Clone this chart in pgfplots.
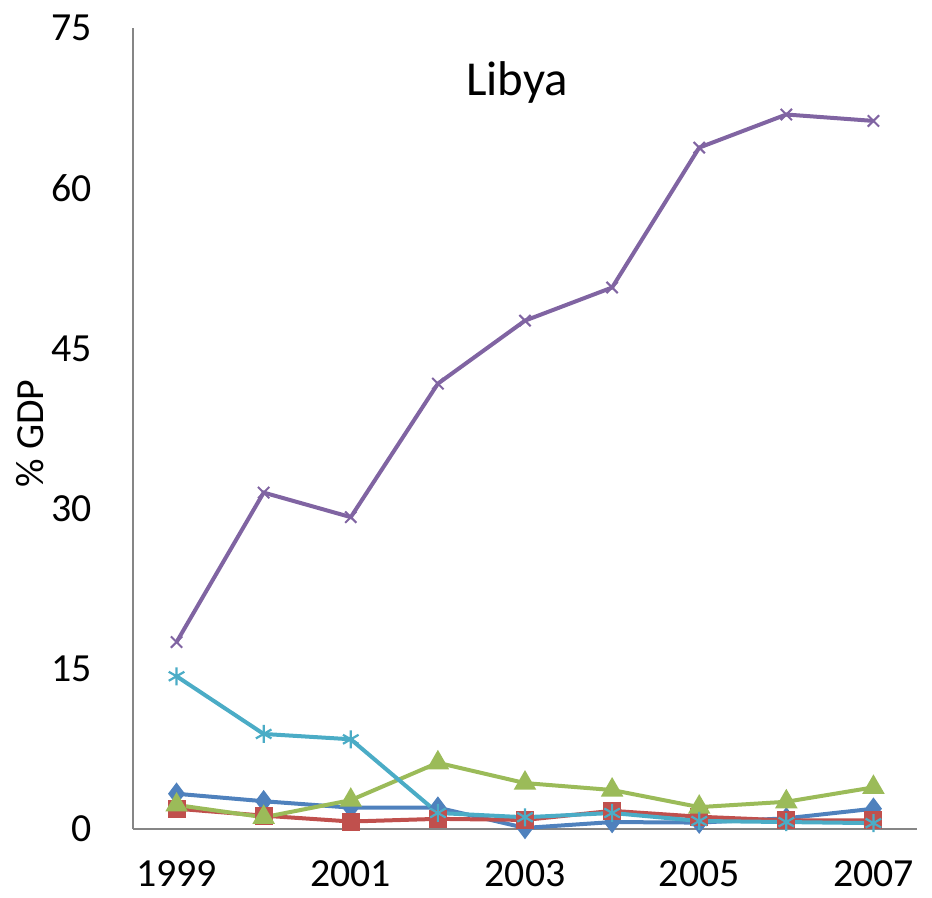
\documentclass[border=0pt]{standalone}
\usepackage{pgfplots}
\pgfplotsset{compat=1.18}
\usepackage{fontspec}
\setmainfont{Carlito}
\definecolor{cblue}{HTML}{4F81BD}
\definecolor{cred}{HTML}{C0504D}
\definecolor{cgreen}{HTML}{9BBB59}
\definecolor{cpurple}{HTML}{8064A2}
\definecolor{ccyan}{HTML}{4BACC6}
\definecolor{axgray}{HTML}{868686}
\begin{document}
\begin{tikzpicture}
\begin{axis}[
  scale only axis,
  width=784bp, height=801bp,
  xmin=1998.5, xmax=2007.5,
  ymin=0, ymax=75,
  xtick={1999,2001,2003,2005,2007},
  ytick={0,15,30,45,60,75},
  major tick length=0pt,
  axis lines=left,
  axis line style={-, draw=axgray, line width=1.5bp},
  clip=false,
  /pgf/number format/assume math mode=true,
  /pgf/number format/1000 sep={},
  tick label style={font=\fontsize{40}{48}\selectfont},
  yticklabel style={anchor=east, xshift=-38bp},
  xticklabel style={anchor=north, yshift=-28bp},
  ylabel={\% GDP},
  every axis y label/.style={at={(rel axis cs:0,0.5)}, xshift=-103bp, yshift=-5bp, rotate=90, anchor=center, font=\fontsize{40}{48}\selectfont},
  title={Libya},
  every axis title/.style={at={(rel axis cs:0.49,0.916)}, anchor=base, font=\fontsize{49}{58}\selectfont},
]
\addplot[cblue, line width=4bp, mark=diamond*, mark size=8bp, mark options={solid}] coordinates {
(1999,3.3) (2000,2.6) (2001,2.0) (2002,2.0) (2003,0.1) (2004,0.65) (2005,0.6) (2006,1.0) (2007,1.9)};
\addplot[cred, line width=4bp, mark=square*, mark size=7bp] coordinates {
(1999,1.9) (2000,1.25) (2001,0.7) (2002,0.95) (2003,0.85) (2004,1.7) (2005,1.15) (2006,0.8) (2007,0.8)};
\addplot[cgreen, line width=4bp, mark=triangle*, mark size=9bp] coordinates {
(1999,2.25) (2000,1.1) (2001,2.7) (2002,6.2) (2003,4.3) (2004,3.65) (2005,2.05) (2006,2.55) (2007,3.9)};
\addplot[cpurple, line width=4bp, mark=x, mark size=8bp, mark options={line width=2bp}] coordinates {
(1999,17.5) (2000,31.5) (2001,29.2) (2002,41.7) (2003,47.6) (2004,50.7) (2005,63.8) (2006,66.9) (2007,66.3)};
\addplot[ccyan, line width=4bp, mark=asterisk, mark size=9bp, mark options={line width=2.2bp}] coordinates {
(1999,14.3) (2000,8.9) (2001,8.4) (2002,1.5) (2003,1.1) (2004,1.5) (2005,0.75) (2006,0.65) (2007,0.55)};
\end{axis}
\pgfresetboundingbox
\path (current axis.south west) ++(-133bp,-69bp) rectangle ++(932bp,898bp);
\end{tikzpicture}
\end{document}
